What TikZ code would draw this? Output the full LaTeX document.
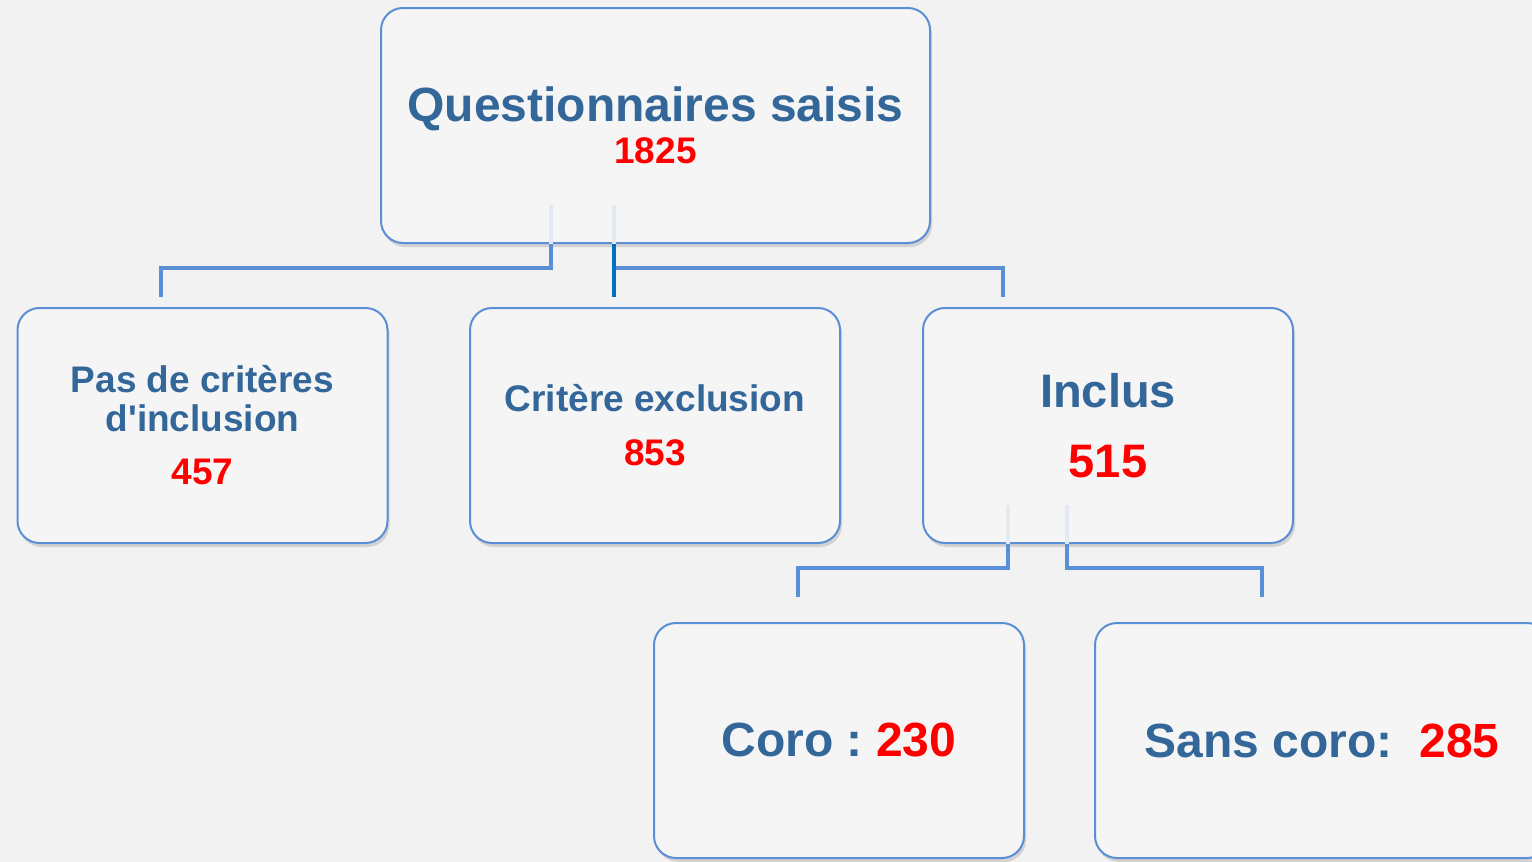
\documentclass[tikz,border=0pt]{standalone}
\usepackage{fontspec}
\setmainfont{Liberation Sans}
\usetikzlibrary{shadows}
\frenchspacing

\definecolor{bgcol}{HTML}{F2F2F2}
\definecolor{boxfill}{HTML}{F5F5F5}
\definecolor{boxline}{HTML}{5B8FD5}
\definecolor{darkline}{HTML}{0070C0}
\definecolor{stubcol}{HTML}{E3E9F2}
\definecolor{txtblue}{HTML}{336699}
\definecolor{red}{HTML}{FF0000}

\begin{document}
\begin{tikzpicture}[x=1pt, y=-1pt]
        \tikzstyle{box}=[draw=boxline, line width=2pt, fill=boxfill, rounded corners=22pt, minimum width=370pt, minimum height=235pt, inner sep=0pt, align=center, text=txtblue, drop shadow={shadow xshift=2pt, shadow yshift=-4pt, opacity=0.28}]
        \tikzstyle{conn}=[draw=boxline, line width=4pt]
        \tikzstyle{stub}=[draw=stubcol, line width=4pt]
        \fill[bgcol] (0,0) rectangle (1532,862);
        \useasboundingbox (0,0) rectangle (1532,862);
        % boxes
        \node [box, minimum width=549pt, font=\bfseries\fontsize{48}{42}\selectfont] (saisis) at (655.5,125.5) {Questionnaires saisis\\{\fontsize{37}{42}\selectfont\color{red}1825}};
        \node [box, font=\bfseries\fontsize{37}{39}\selectfont] (pasinc) at (202.5,425.5) {Pas de critères\\d\textquotesingle inclusion\\[14pt]{\color{red}457}};
        \node [box, font=\bfseries\fontsize{37}{39}\selectfont] (critexc) at (655,425.5) {Critère exclusion\\[15pt]{\color{red}853}};
        \node [box, font=\bfseries\fontsize{47}{70}\selectfont] (inclus) at (1108,425.5) {Inclus\\{\color{red}515}};
        \node [box, font=\bfseries\fontsize{48}{50}\selectfont] (coro) at (839,740.5) {Coro : {\color{red}230}};
        \node [box, minimum width=454pt, font=\bfseries\fontsize{48}{50}\selectfont] (sanscoro) at (1322,740.5) {Sans coro:~~{\color{red}285}};
        % connectors
        \coordinate (a1) at (551,205);
        \coordinate (a2) at (161,297);
        \coordinate (b1) at (614,205);
        \coordinate (b2) at (614,297);
        \coordinate (c2) at (1003,297);
        \coordinate (d1) at (1008,505);
        \coordinate (d2) at (798,597);
        \coordinate (e1) at (1067,505);
        \coordinate (e2) at (1262,597);
        \draw[stub] (a1) -- (a1 |- saisis.south);
        \draw[stub] (b1) -- (b1 |- saisis.south);
        \draw[conn] (a1 |- saisis.south) -- ++(0,24) -| (a2);
        \draw[conn] (b1 |- saisis.south) ++(0,24) -| (c2);
        \draw[conn, draw=darkline] (b1 |- saisis.south) -- (b2);
        \draw[stub] (d1) -- (d1 |- inclus.south);
        \draw[stub] (e1) -- (e1 |- inclus.south);
        \draw[conn] (d1 |- inclus.south) -- ++(0,24) -| (d2);
        \draw[conn] (e1 |- inclus.south) -- ++(0,24) -| (e2);
\end{tikzpicture}
\end{document}
